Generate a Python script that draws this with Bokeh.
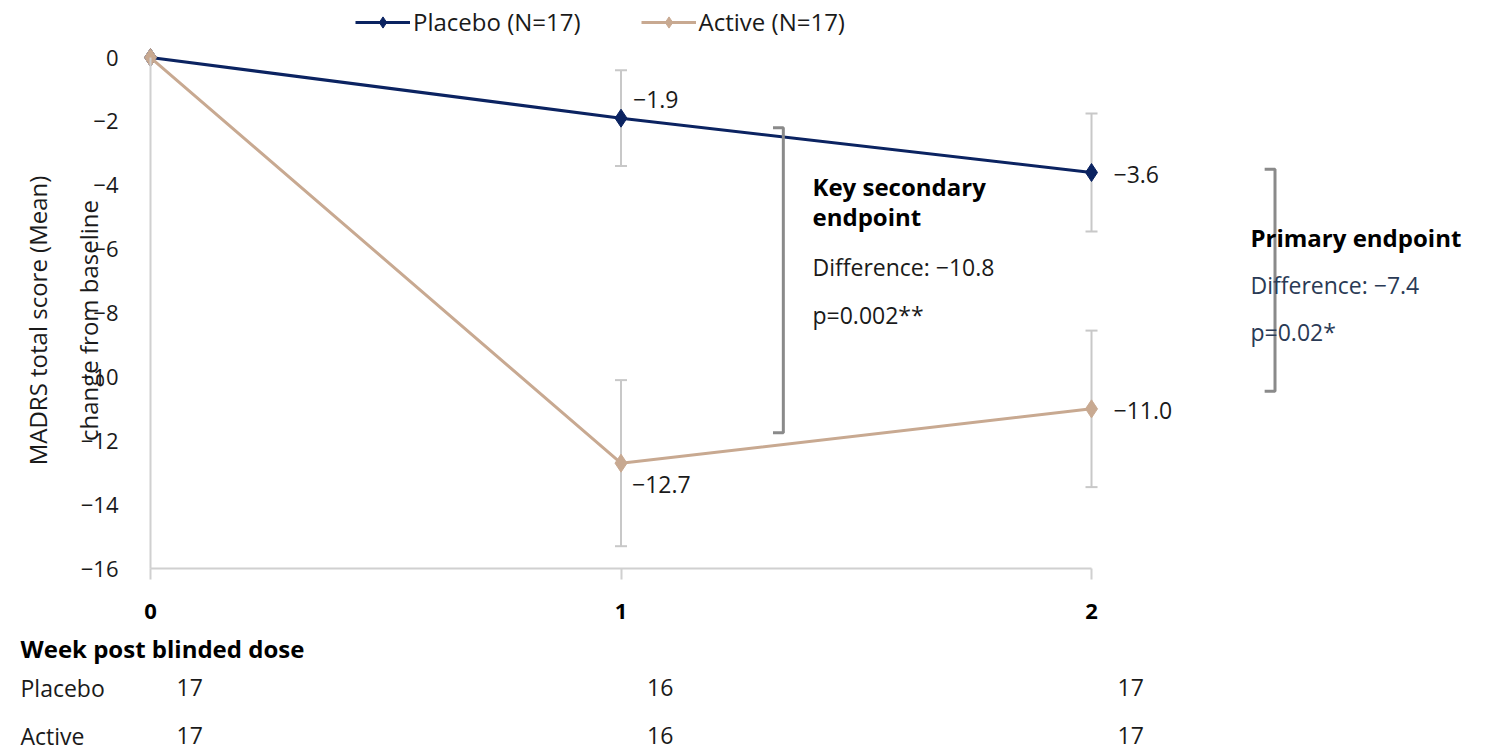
import math

from bokeh.core.properties import value
from bokeh.embed import file_html
from bokeh.models import (ColumnDataSource, FixedTicker, Label, Legend,
                          LegendItem, LinearAxis, Range1d, TeeHead, Whisker)
from bokeh.plotting import figure
from bokeh.resources import INLINE

# ---- data -----------------------------------------------------------------
weeks = [0, 1, 2]
placebo_mean = [0.0, -1.9, -3.6]
placebo_err = [0.0, 1.5, 1.85]
active_mean = [0.0, -12.7, -11.0]
active_err = [0.0, 2.6, 2.45]
placebo_n = [17, 16, 17]
active_n = [17, 16, 17]
y_ticks = [0, -2, -4, -6, -8, -10, -12, -14, -16]

# ---- style ----------------------------------------------------------------
W, H = 1506, 753
FONT = "Open Sans"
PLACEBO = "#0b2361"
ACTIVE = "#c8a991"
AXIS = "#d0d0d0"
ERR = "#c8c8c8"
BRACKET = "#8a8a8a"
TXT = "#1a1a1a"
NOTE = "#2a3a55"
BODY = "23px"


def minus(v):
    return "0" if v == 0 else f"\u2212{abs(v):g}"


def fmt(v):
    return f"\u2212{abs(v):.1f}" if v < 0 else f"{v:.1f}"


p = figure(width=W, height=H, x_range=Range1d(-0.3188, 2.882),
           y_range=Range1d(-21.79, 1.785), x_axis_location=None,
           y_axis_location=None, toolbar_location=None, output_backend="svg",
           min_border=0, outline_line_color=None)
p.grid.visible = False
p.background_fill_color = "white"

# axes drawn at fixed data positions inside the frame
yaxis = LinearAxis(fixed_location=0, bounds=(min(y_ticks), max(y_ticks)),
                   ticker=FixedTicker(ticks=y_ticks),
                   major_label_overrides={t: minus(t) for t in y_ticks},
                   axis_line_color=AXIS, axis_line_width=2,
                   major_tick_out=0, major_tick_in=0,
                   minor_tick_out=0, minor_tick_in=0,
                   major_label_standoff=32,
                   major_label_text_font=FONT,
                   major_label_text_font_size="22px",
                   major_label_text_color=TXT)
p.add_layout(yaxis, "left")

xaxis = LinearAxis(fixed_location=min(y_ticks), bounds=(weeks[0], weeks[-1]),
                   ticker=FixedTicker(ticks=weeks),
                   axis_line_color=AXIS, axis_line_width=2,
                   major_tick_out=11, major_tick_in=0,
                   major_tick_line_color=AXIS, major_tick_line_width=2,
                   minor_tick_out=0, minor_tick_in=0,
                   major_label_standoff=24,
                   major_label_text_font=FONT,
                   major_label_text_font_style="bold",
                   major_label_text_font_size="22px",
                   major_label_text_color="black")
p.add_layout(xaxis, "below")

# error bars
for mean, err in ((placebo_mean, placebo_err), (active_mean, active_err)):
    idx = [i for i, e in enumerate(err) if e > 0]
    src = ColumnDataSource(dict(
        x=[weeks[i] for i in idx],
        lo=[mean[i] - err[i] for i in idx],
        hi=[mean[i] + err[i] for i in idx]))
    p.add_layout(Whisker(base="x", lower="lo", upper="hi", source=src,
                         dimension="height", line_color=ERR, line_width=2,
                         upper_head=TeeHead(size=12, line_color=ERR, line_width=2),
                         lower_head=TeeHead(size=12, line_color=ERR, line_width=2)))

# series
pl = p.line(weeks, placebo_mean, line_color=PLACEBO, line_width=3)
ps = p.scatter(weeks, placebo_mean, marker="diamond", size=18,
               fill_color=PLACEBO, line_color=PLACEBO)
al = p.line(weeks, active_mean, line_color=ACTIVE, line_width=3)
ash = p.scatter(weeks, active_mean, marker="diamond", size=18,
                fill_color=ACTIVE, line_color=ACTIVE)

# value labels (weeks 1 and 2)
lab_src = ColumnDataSource(dict(
    x=weeks[1:] + weeks[1:],
    y=placebo_mean[1:] + active_mean[1:],
    t=[fmt(v) for v in placebo_mean[1:] + active_mean[1:]],
    dx=[12, 22, 11, 22],
    dy=[-19, 2, 21, 2]))
p.text(x="x", y="y", text="t", x_offset="dx", y_offset="dy", source=lab_src,
       text_font=value(FONT), text_font_size=BODY, text_color=TXT,
       text_align="left", text_baseline="middle")

# brackets marking the between-group differences
brackets = [(1.345, -2.2, -11.75), (2.39, -3.5, -10.45)]
cap = 0.022
p.multi_line(xs=[[bx - cap, bx, bx, bx - cap] for bx, _, _ in brackets],
             ys=[[t, t, b, b] for _, t, b in brackets],
             line_color=BRACKET, line_width=3)


def label(x, y_top, text, size=BODY, style="normal", color=TXT, **kw):
    p.add_layout(Label(x=x, y=H - y_top, x_units="screen", y_units="screen",
                       text=text, text_font=FONT, text_font_size=size,
                       text_font_style=style, text_color=color,
                       text_baseline="middle", **kw))


label(812, 186, "Key secondary", "24px", "bold", "black")
label(812, 216, "endpoint", "24px", "bold", "black")
label(812, 266, "Difference: \u221210.8")
label(812, 314, "p=0.002**")
label(1250, 237, "Primary endpoint", "24px", "bold", "black")
label(1250, 284, "Difference: \u22127.4", color=NOTE)
label(1250, 331, "p=0.02*", color=NOTE)

# axis title (two rotated lines)
label(37, 320, "MADRS total score (Mean)", "24px", angle=math.pi / 2,
      text_align="center")
label(88, 320, "change from baseline", "24px", angle=math.pi / 2,
      text_align="center")

# numbers at risk table
label(20, 648, "Week post blinded dose", "24px", "bold", "black")
for row_y, name, counts in ((687, "Placebo", placebo_n), (735, "Active", active_n)):
    label(20, row_y, name)
    for wk, n in zip(weeks, counts):
        p.add_layout(Label(x=wk, y=H - row_y, x_units="data", y_units="screen",
                           x_offset=26, text=str(n), text_font=FONT,
                           text_font_size=BODY, text_color=TXT,
                           text_baseline="middle"))

legend = Legend(items=[LegendItem(label="Placebo (N=17)", renderers=[pl, ps]),
                       LegendItem(label="Active (N=17)", renderers=[al, ash])],
                orientation="horizontal", location=(355, H - 38),
                glyph_width=55, glyph_height=28, label_height=28,
                label_standoff=3, spacing=60, padding=0, margin=0,
                border_line_alpha=0, background_fill_alpha=0,
                label_text_font=FONT, label_text_font_size="24px",
                label_text_color=TXT)
p.add_layout(legend)

open("out.html", "w").write(file_html(p, INLINE))
